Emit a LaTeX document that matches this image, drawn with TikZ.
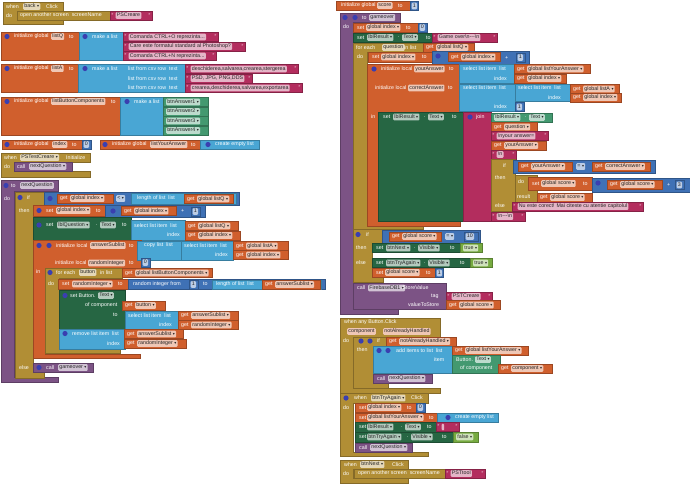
\documentclass[tikz,border=0pt]{standalone}
\usepackage{fontspec}
\setmainfont{Liberation Sans}
\newfontfamily\symfont{DejaVu Sans}
\usetikzlibrary{positioning}

\definecolor{ctrl}{HTML}{B18E35}
\definecolor{vars}{HTML}{D05F2D}
\definecolor{lists}{HTML}{49A6D4}
\definecolor{maths}{HTML}{3F71B5}
\definecolor{texts}{HTML}{B32D5E}
\definecolor{setc}{HTML}{266643}
\definecolor{getc}{HTML}{439970}
\definecolor{procs}{HTML}{7C5385}
\definecolor{logic}{HTML}{77AB41}
\definecolor{icon}{HTML}{3A3FB0}

\tikzset{
  lbl/.style={anchor=west,text=white,font=\fontsize{5.3}{6}\selectfont,inner sep=0pt},
  chip/.style={anchor=west,fill=#1!35!white,text=black!85,rounded corners=1pt,
    font=\fontsize{5.3}{6}\selectfont,inner xsep=1.2pt,inner ysep=1pt,
    text height=3.8pt,text depth=1pt},
  blockline/.style={line width=0.4pt}
}

\newcounter{nd}
\newcommand{\dd}{\hspace{1.5pt}{\symfont\fontsize{4}{4}\selectfont ▾}}
\newcommand{\bx}[5]{\filldraw[#1,draw=#1!75!black,blockline] (#2,#3) rectangle (#4,#5);}
\newcommand{\cblk}[9]{\filldraw[#1,draw=#1!75!black,blockline] (#2,#3) -- (#4,#3) -- (#4,#5) -- (#6,#5) -- (#6,#7) -- (#8,#7) -- (#8,#9) -- (#2,#9) -- cycle;}
\newcommand{\tx}[3]{\stepcounter{nd}\node[lbl] (n\arabic{nd}) at (#1,#2) {#3};}
\newcommand{\ch}[4]{\stepcounter{nd}\node[chip=#1] (n\arabic{nd}) at (#2,#3) {#4};}
\newcommand{\ico}[2]{\fill[icon] (#1,#2) circle (2.6pt);}
\newcommand{\strb}[4]{\bx{texts}{#1}{#2}{#3}{#2+9}\tx{#1+1.5}{#2+4.5}{"}\ch{texts}{#1+5.5}{#2+4.5}{#4}\tx{#3-3.5}{#2+4.5}{"}}
\newcommand{\getb}[4]{\bx{vars}{#1}{#2}{#3}{#2+9}\tx{#1+3}{#2+4.5}{get}\ch{vars}{#1+13}{#2+4.5}{#4\dd}}
\newcommand{\numb}[4]{\bx{maths}{#1}{#2}{#3}{#2+9}\ch{maths}{#1+1.5}{#2+4.5}{#4}}

\begin{document}
\begin{tikzpicture}[x=1pt,y=-1pt]
  \fill[white] (0,0) rectangle (690,483);
  \useasboundingbox (0,0) rectangle (690,483);

  % when back.Click
  \cblk{ctrl}{3}{2}{63}{11}{17}{20}{63}{24}
  \tx{6}{6.5}{when} \ch{ctrl}{23}{6.5}{back\dd} \tx{46}{6.5}{Click}
  \tx{6}{15.5}{do}
  \bx{ctrl}{17}{11}{111}{20}
  \tx{20}{15.5}{open another screen\ \ screenName}
  \strb{110}{11}{152}{PSCreare}

  % global lists
  \bx{vars}{1}{32}{79}{60}
  \ico{7}{36.5} \tx{14}{36.5}{initialize global} \ch{vars}{51}{36.5}{listQ} \tx{69}{36.5}{to}
  \bx{lists}{79}{32}{124}{60}
  \ico{85}{36.5} \tx{92}{36.5}{make a list}
  \strb{123}{32.5}{218}{Comanda CTRL+O reprezinta...}
  \strb{123}{42}{245}{Care este formatul standard al Photoshop?}
  \strb{123}{51.5}{216}{Comanda CTRL+N reprezinta...}

  \bx{vars}{1}{64}{78}{92}
  \ico{7}{68.5} \tx{14}{68.5}{initialize global} \ch{vars}{51}{68.5}{listA} \tx{69}{68.5}{to}
  \bx{lists}{78}{64}{185}{92}
  \ico{85}{68.5} \tx{92}{68.5}{make a list}
  \tx{128}{69}{list from csv row\ \ text}
  \tx{128}{78.5}{list from csv row\ \ text}
  \tx{128}{88}{list from csv row\ \ text}
  \strb{185}{64.5}{298}{deschiderea,salvarea,crearea,stergerea}
  \strb{185}{74}{252}{PSD, JPG, PNG,DDS}
  \strb{185}{83.5}{302}{crearea,deschiderea,salvarea,exportarea}

  \bx{vars}{1}{97}{120}{135}
  \ico{7}{101.5} \tx{14}{101.5}{initialize global} \ch{vars}{51}{101.5}{listButtonComponents} \tx{111}{101.5}{to}
  \bx{lists}{120}{97}{163}{135}
  \ico{127}{101.5} \tx{134}{101.5}{make a list}
  \bx{getc}{163}{97.5}{208}{106.5} \ch{getc}{166}{102}{btnAnswer1\dd}
  \bx{getc}{163}{107}{208}{116} \ch{getc}{166}{111.5}{btnAnswer2\dd}
  \bx{getc}{163}{116.5}{208}{125.5} \ch{getc}{166}{121}{btnAnswer3\dd}
  \bx{getc}{163}{126}{208}{135} \ch{getc}{166}{130.5}{btnAnswer4\dd}

  \bx{vars}{2}{140}{82}{149}
  \ico{7}{144.5} \tx{14}{144.5}{initialize global} \ch{vars}{52}{144.5}{index} \tx{72}{144.5}{to}
  \numb{82}{140}{91}{0}
  \bx{vars}{100}{140}{200}{149}
  \ico{105}{144.5} \tx{112}{144.5}{initialize global} \ch{vars}{150}{144.5}{listYourAnswer} \tx{191}{144.5}{to}
  \bx{lists}{200}{140}{259}{149}
  \ico{208}{144.5} \tx{215}{144.5}{create empty list}

  % when PSTestCreare.Initialize
  \cblk{ctrl}{1}{153}{90}{162}{14}{171}{90}{177}
  \tx{4}{157.5}{when} \ch{ctrl}{20}{157.5}{PSTestCreare\dd} \tx{66}{157.5}{Initialize}
  \tx{4}{167}{do}
  \bx{procs}{14}{162}{72}{171}
  \tx{17}{166.5}{call} \ch{procs}{29}{166.5}{nextQuestion\dd}

  % to nextQuestion
  \cblk{procs}{1}{180}{58}{191}{14}{377}{58}{382}
  \ico{6}{185.5} \tx{11}{185.5}{to} \ch{procs}{20}{185.5}{nextQuestion}
  \tx{4}{199}{do}
  \cblk{ctrl}{15}{192}{45}{205}{33}{372}{44}{378}
  \ico{20}{197.5} \tx{27}{197.5}{if}
  \bx{maths}{44}{192}{239}{205}
  \ico{50}{198.5}
  \getb{57}{194}{113}{global index}
  \ch{maths}{116}{198.5}{<\dd}
  \bx{lists}{131}{193.5}{236}{204}
  \tx{137}{198.5}{length of list\ \ list}
  \getb{184}{194.5}{233}{global listQ}

  \tx{19}{210.5}{then}
  \bx{vars}{33}{205}{105}{216}
  \ico{39}{210.5} \tx{46}{210.5}{set} \ch{vars}{56}{210.5}{global index\dd} \tx{96}{210.5}{to}
  \bx{maths}{105}{205}{205}{217}
  \ico{113}{211}
  \getb{121}{206.5}{176}{global index}
  \tx{181}{211}{+}
  \numb{191}{207}{200}{1}

  \bx{setc}{33}{217}{131}{240}
  \ico{39}{225} \tx{46}{225}{set} \ch{setc}{57}{225}{lblQuestion\dd} \tx{96}{225}{.}
  \ch{setc}{100}{225}{Text\dd} \tx{122}{225}{to}
  \bx{lists}{131}{220}{185}{240}
  \tx{134}{225.5}{select list item\ \ list} \tx{167}{235}{index}
  \getb{185}{221.5}{238}{global listQ}
  \getb{185}{231}{240}{global index}

  \cblk{vars}{33}{240}{141}{268}{45}{354}{140}{358}
  \ico{39}{245.5} \ico{49}{245.5}
  \tx{56}{245.5}{initialize local} \ch{vars}{90}{245.5}{answerSublist} \tx{129}{245.5}{to}
  \bx{lists}{137}{241}{181}{260}
  \tx{144}{245.5}{copy list\ \ list}
  \bx{lists}{181}{241}{233}{260}
  \tx{184}{245.5}{select list item\ \ list} \tx{215}{255}{index}
  \getb{233}{241.5}{288}{global listA}
  \getb{233}{250.5}{288}{global index}
  \tx{55}{263}{initialize local} \ch{vars}{88}{263}{randomInteger} \tx{129}{263}{to}
  \numb{141}{258}{150}{0}
  \tx{36}{272}{in}

  \cblk{ctrl}{45}{268}{122}{278}{59}{348}{120}{353}
  \ico{50}{272.5} \tx{56}{272.5}{for each} \ch{ctrl}{79}{272.5}{button} \tx{100}{272.5}{in list}
  \getb{122}{268.5}{212}{global listButtonComponents}
  \tx{48}{283.5}{do}
  \bx{vars}{58}{279}{128}{289}
  \tx{62}{284}{set} \ch{vars}{72}{284}{randomInteger\dd} \tx{118}{284}{to}
  \bx{maths}{128}{279}{325}{289.5}
  \tx{133}{284}{random integer from}
  \numb{189}{280}{198}{1}
  \tx{203}{284}{to}
  \bx{lists}{212}{280}{321}{289}
  \tx{216}{284.5}{length of list\ \ list}
  \getb{262}{280}{320}{answerSublist}

  \bx{setc}{59}{290}{125}{329}
  \ico{65}{295.5} \tx{70}{295.5}{set Button.} \ch{setc}{98}{295.5}{Text\dd}
  \tx{85}{305}{of component} \tx{113}{315}{to}
  \getb{122}{301}{165}{button}
  \bx{lists}{125}{311}{178}{329}
  \tx{128}{315.5}{select list item\ \ list} \tx{159}{325}{index}
  \getb{178}{311}{238}{answerSublist}
  \getb{178}{320.5}{238}{randomInteger}

  \bx{lists}{59}{329}{125}{349}
  \ico{65}{333.5} \tx{72}{333.5}{remove list item\ \ list} \tx{107}{343.5}{index}
  \getb{124}{329.5}{183}{answerSublist}
  \getb{124}{339}{186}{randomInteger}

  \tx{19}{367.5}{else}
  \bx{procs}{33}{363}{93}{372}
  \ico{39}{367.5} \tx{46}{367.5}{call} \ch{procs}{58}{367.5}{gameover\dd}

  % right column
  \bx{vars}{336}{1}{410}{10}
  \tx{341}{5.5}{initialize global} \ch{vars}{377}{5.5}{score} \tx{398}{5.5}{to}
  \numb{410}{1.5}{418}{1}

  % to gameover
  \cblk{procs}{340}{13}{400}{22}{353}{309}{398}{314}
  \ico{345}{17.5} \ico{355}{17.5} \tx{362}{17.5}{to} \ch{procs}{369}{17.5}{gameover}
  \tx{343}{27}{do}
  \bx{vars}{353}{23}{418}{32}
  \tx{357}{27.5}{set} \ch{vars}{366}{27.5}{global index\dd} \tx{406}{27.5}{to}
  \numb{418}{23}{427}{0}
  \bx{setc}{353}{33}{432}{42}
  \tx{357}{37.5}{set} \ch{setc}{367}{37.5}{lblResult\dd} \tx{398}{37.5}{.}
  \ch{setc}{402}{37.5}{Text\dd} \tx{426}{37.5}{to}
  \strb{432}{33}{497}{Game over\textbackslash n-{}-{}-\textbackslash n}

  \cblk{ctrl}{353}{43}{423}{52}{367}{221}{423}{229}
  \tx{356}{47.5}{for each} \ch{ctrl}{382}{47.5}{question} \tx{404}{47.5}{in list}
  \getb{423}{43}{474}{global listQ}
  \tx{357}{57}{do}
  \bx{vars}{368}{52}{432}{62}
  \tx{372}{57}{set} \ch{vars}{381}{57}{global index\dd} \tx{422}{57}{to}
  \bx{maths}{432}{51}{529}{64}
  \ico{438}{56}
  \getb{448}{52.5}{500}{global index}
  \tx{505}{57.5}{+}
  \numb{516}{53}{525}{1}

  \cblk{vars}{367}{64}{460}{112}{378}{221}{460}{226}
  \ico{374}{69} \tx{381}{69}{initialize local} \ch{vars}{414}{69}{yourAnswer} \tx{449}{69}{to}
  \bx{lists}{459}{64}{514}{83}
  \tx{463}{69}{select list item\ \ list} \tx{494}{78.5}{index}
  \getb{514}{64.5}{590}{global listYourAnswer}
  \getb{514}{74}{566}{global index}
  \tx{375}{88}{initialize local} \ch{vars}{408}{88}{correctAnswer} \tx{448}{88}{to}
  \bx{lists}{459}{84}{515}{111}
  \tx{463}{88}{select list item\ \ list} \tx{494}{107}{index}
  \numb{515}{102.5}{524}{1}
  \bx{lists}{515}{84}{570}{101}
  \tx{518}{88}{select list item\ \ list} \tx{548}{97.5}{index}
  \getb{570}{84.5}{619}{global listA}
  \getb{570}{93}{621}{global index}

  \tx{371}{117}{in}
  \bx{setc}{378}{112}{463}{221}
  \tx{383}{117}{set} \ch{setc}{393}{117}{lblResult\dd} \tx{424}{117}{.}
  \ch{setc}{428}{117}{Text\dd} \tx{452}{117}{to}
  \bx{texts}{463}{112}{491}{221}
  \ico{470}{117} \tx{476}{117}{join}
  \bx{getc}{491}{113}{552}{122}
  \ch{getc}{494}{117.5}{lblResult\dd} \tx{525}{117.5}{.} \ch{getc}{529}{117.5}{Text\dd}
  \getb{491}{122.5}{537}{question}
  \strb{491}{131.5}{548}{\textbackslash nyour answer=}
  \getb{491}{141}{546}{yourAnswer}
  \strb{491}{150}{516}{\textbackslash n}
  \bx{ctrl}{491}{159}{515}{211}
  \tx{503}{166}{if} \tx{495}{178}{then} \tx{495}{206}{else}
  \bx{maths}{513}{160}{655}{173}
  \getb{518}{162}{572}{yourAnswer}
  \ch{maths}{576}{166.5}{=\dd}
  \getb{592}{162}{650}{correctAnswer}
  \bx{ctrl}{515}{175}{537}{202}
  \tx{518}{182}{do}
  \bx{vars}{528}{177}{592}{190}
  \tx{532}{183.5}{set} \ch{vars}{541}{183.5}{global score\dd} \tx{583}{183.5}{to}
  \bx{maths}{592}{178}{690}{192}
  \ico{598}{183}
  \getb{607}{180}{662}{global score}
  \tx{667}{185}{+}
  \numb{675}{180.5}{684}{3}
  \tx{517}{197}{result}
  \getb{537}{193}{592}{global score}
  \strb{512}{202}{643}{Nu este corect! Mai citeste cu atentie capitolul}
  \strb{491}{212}{525}{\textbackslash n-{}-{}-\textbackslash n}

  \cblk{ctrl}{353}{229}{383}{243}{372}{277}{383}{282}
  \ico{358}{234.5} \tx{366}{234.5}{if}
  \bx{maths}{382}{230}{480}{243}
  \getb{389}{232}{441}{global score}
  \ch{maths}{445}{236.5}{=\dd}
  \numb{464}{232}{478}{10}
  \tx{356}{248}{then}
  \bx{setc}{372}{243}{460}{252.5}
  \tx{376}{248}{set} \ch{setc}{386}{248}{btnNext\dd} \tx{414}{248}{.}
  \ch{setc}{418}{248}{Visible\dd} \tx{450}{248}{to}
  \bx{logic}{460}{243.5}{482}{252.5} \ch{logic}{463}{248}{true\dd}
  \tx{356}{263}{else}
  \bx{setc}{372}{258}{470}{267.5}
  \tx{376}{263}{set} \ch{setc}{386}{263}{btnTryAgain\dd} \tx{424}{263}{.}
  \ch{setc}{428}{263}{Visible\dd} \tx{460}{263}{to}
  \bx{logic}{470}{258.5}{492}{267.5} \ch{logic}{473}{263}{true\dd}
  \bx{vars}{372}{268}{435}{277}
  \tx{376}{272.5}{set} \ch{vars}{385}{272.5}{global score\dd} \tx{426}{272.5}{to}
  \numb{435}{268.5}{443}{1}

  \bx{procs}{353}{283}{446}{309}
  \tx{357}{288}{call} \ch{procs}{368}{288}{FirebaseDB1\dd} \tx{401}{288}{.StoreValue}
  \tx{431}{296.5}{tag} \tx{408}{305}{valueToStore}
  \strb{446}{292}{492}{PSTCreare}
  \getb{446}{300.5}{500}{global score}

  % when any Button.Click
  \cblk{ctrl}{340}{318}{440}{337}{353}{388}{440}{393}
  \tx{344}{322}{when any Button.Click}
  \ch{vars}{347}{331.5}{component} \ch{vars}{383}{331.5}{notAlreadyHandled}
  \tx{343}{341}{do}
  \cblk{ctrl}{353}{337}{388}{346}{373}{383}{388}{388}
  \ico{361}{341} \ico{370}{341} \tx{377}{341}{if}
  \getb{386}{337}{456}{notAlreadyHandled}
  \tx{357}{350}{then}
  \bx{lists}{373}{346}{453}{373}
  \ico{379}{350.5} \ico{388}{350.5}
  \tx{396}{350.5}{add items to list\ \ list} \tx{434}{359.5}{item}
  \getb{452}{346}{528}{global listYourAnswer}
  \bx{getc}{452}{355}{500}{373}
  \tx{456}{359.5}{Button.} \ch{getc}{475}{359.5}{Text\dd}
  \tx{460}{368.5}{of component}
  \getb{498}{364}{552}{component}
  \bx{procs}{373}{374}{432}{383}
  \tx{377}{378.5}{call} \ch{procs}{388}{378.5}{nextQuestion\dd}

  % when btnTryAgain.Click
  \cblk{ctrl}{340}{393}{428}{403}{353}{452}{428}{456}
  \ico{346}{398} \tx{354}{398}{when} \ch{ctrl}{371}{398}{btnTryAgain\dd} \tx{411}{398}{Click}
  \tx{343}{407.5}{do}
  \bx{vars}{355}{403}{416}{412}
  \tx{359}{407.5}{set} \ch{vars}{367}{407.5}{global index\dd} \tx{407}{407.5}{to}
  \numb{416}{403}{425}{0}
  \bx{vars}{355}{413}{437}{422}
  \tx{359}{417.5}{set} \ch{vars}{367}{417.5}{global listYourAnswer\dd} \tx{429}{417.5}{to}
  \bx{lists}{437}{413}{498}{422}
  \ico{448}{417.5} \tx{455}{417.5}{create empty list}
  \bx{setc}{355}{422.5}{436}{432}
  \tx{359}{427}{set} \ch{setc}{367}{427}{lblResult\dd} \tx{401}{427}{.}
  \ch{setc}{405}{427}{Text\dd} \tx{427}{427}{to}
  \strb{436}{422.5}{459}{\hspace{3pt}}
  \bx{setc}{355}{432.5}{453}{442}
  \tx{359}{437}{set} \ch{setc}{367}{437}{btnTryAgain\dd} \tx{407}{437}{.}
  \ch{setc}{411}{437}{Visible\dd} \tx{442}{437}{to}
  \bx{logic}{453}{432.5}{478}{442} \ch{logic}{456}{437}{false\dd}
  \bx{procs}{355}{443}{412}{452}
  \tx{359}{447.5}{call} \ch{procs}{370}{447.5}{nextQuestion\dd}

  % when btnNext.Click
  \cblk{ctrl}{340}{460}{408}{469}{353}{478}{408}{483}
  \tx{344}{464.5}{when} \ch{ctrl}{360}{464.5}{btnNext\dd} \tx{392}{464.5}{Click}
  \tx{343}{473.5}{do}
  \bx{ctrl}{354}{469}{445}{478}
  \tx{358}{473.5}{open another screen\ \ screenName}
  \strb{445}{469}{485}{PSTtool}
\end{tikzpicture}
\end{document}
